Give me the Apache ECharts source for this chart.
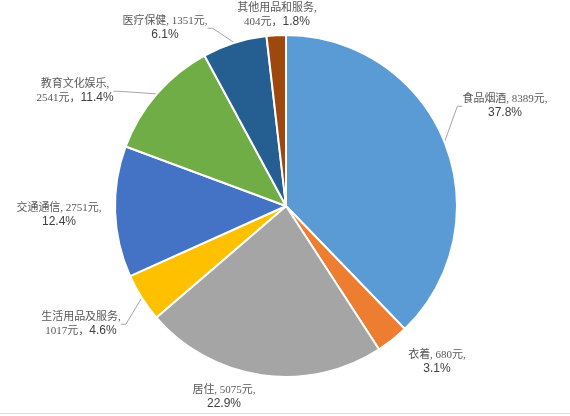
<!DOCTYPE html>
<html>
<head>
<meta charset="utf-8">
<script src="https://cdn.jsdelivr.net/npm/echarts@6/dist/echarts.min.js"></script>
<style>
  html, body { margin: 0; padding: 0; background: #fff; }
  #main { width: 570px; height: 416px; }
</style>
</head>
<body>
<div id="main"></div>
<script>
// 居民人均消费支出构成
const names = ['食品烟酒', '衣着', '居住', '生活用品及服务', '交通通信', '教育文化娱乐', '医疗保健', '其他用品和服务'];
const values = [8389, 680, 5075, 1017, 2751, 2541, 1351, 404];
const colors = ['#5B9BD5', '#ED7D31', '#A5A5A5', '#FFC000', '#4472C4', '#70AD47', '#255E91', '#9E480E'];

// label block centres (pixels) and whether a leader line is drawn
const labelPos = [[505, 106], [437, 362], [224, 397], [81, 324], [59, 215], [75, 91], [165, 28], [277, 15]];
const showLine = [true, false, false, true, false, true, true, false];

let total = values.reduce((a, b) => a + b, 0);

let myChart = echarts.init(document.getElementById('main'));

function labelText(p) {
    let pct = (p.value / total * 100).toFixed(1) + '%';
    if (p.name.length > 4) {
        return '{n|' + p.name + ',}\n{n|' + p.value + '元，}{p|' + pct + '}';
    }
    return '{n|' + p.name + ', ' + p.value + '元,}\n{p|' + pct + '}';
}

let option = {
    backgroundColor: '#fff',
    color: colors,
    series: [{
        type: 'pie',
        center: [286, 206],
        radius: [0, 171],
        startAngle: 90,
        clockwise: true,
        avoidLabelOverlap: false,
        itemStyle: {
            borderColor: '#fff',
            borderWidth: 2
        },
        label: {
            show: true,
            position: 'outside',
            formatter: labelText,
            align: 'center',
            rich: {
                n: {
                    fontFamily: '"Liberation Serif", "Noto Sans CJK SC", serif',
                    fontSize: 11,
                    color: '#595959',
                    lineHeight: 14,
                    align: 'center'
                },
                p: {
                    fontFamily: '"Liberation Sans", "Noto Sans CJK SC", sans-serif',
                    fontSize: 12,
                    color: '#404040',
                    lineHeight: 14,
                    align: 'center'
                }
            }
        },
        labelLine: {
            show: true,
            length: 10,
            length2: 5,
            lineStyle: { color: '#a6a6a6', width: 1 }
        },
        labelLayout: function (params) {
            let pos = labelPos[params.dataIndex];
            return { x: pos[0], y: pos[1], align: 'center', verticalAlign: 'middle' };
        },
        data: names.map((n, i) => ({
            name: n,
            value: values[i],
            labelLine: { show: showLine[i] }
        }))
    }],
    graphic: [{
        type: 'line',
        shape: { x1: 0, y1: 413.5, x2: 570, y2: 413.5 },
        style: { stroke: '#d9d9d9', lineWidth: 1 }
    }]
};
myChart.setOption(option);
</script>
</body>
</html>
